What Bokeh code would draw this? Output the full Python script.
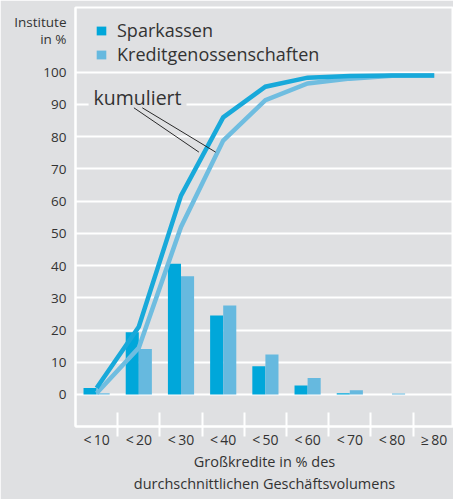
from bokeh.plotting import figure
from bokeh.models import (ColumnDataSource, FixedTicker, Label, Legend, LegendItem, Range1d)
from bokeh.transform import dodge
from bokeh.embed import file_html
from bokeh.resources import INLINE

# ---- data ----
categories = ["<\u200910", "<\u200920", "<\u200930", "<\u200940", "<\u200950",
              "<\u200960", "<\u200970", "<\u200980", "\u2265\u200980"]
sparkassen = [2.0, 19.3, 40.6, 24.5, 8.8, 2.8, 0.4, 0.0, 0.0]
kredit = [0.4, 14.1, 36.7, 27.6, 12.4, 5.1, 1.3, 0.3, 0.0]
sparkassen_cum = [2.0, 21.0, 61.7, 86.0, 95.5, 98.3, 98.8, 99.0, 99.0]
kredit_cum = [0.4, 14.5, 52.0, 78.8, 91.3, 96.5, 98.0, 98.9, 99.0]
y_ticks = [0, 10, 20, 30, 40, 50, 60, 70, 80, 90, 100]
series_names = ["Sparkassen", "Kreditgenossenschaften"]
x_title = "Großkredite in % des\ndurchschnittlichen Geschäftsvolumens"
y_title_lines = {115.7: "Institute", 110.3: "in %"}   # stacked unit label
callout_text = "kumuliert"
# callout leader lines (data coordinates: category index, percent)
callout_x0 = [0.884, 1.083]
callout_y0 = [88.95, 88.95]
callout_x1 = [2.424, 2.82]
callout_y1 = [75.2, 75.2]

# ---- style ----
BG = "#dfe0e2"
PAGE_BG = "#e9eaeb"
C_SPK = "#00a7da"
C_KRE = "#66b9df"
C_SPK_LINE = "#18a9da"
C_KRE_LINE = "#6fbde0"
TXT = "#333333"
FONT = "Open Sans"

idx = list(range(len(categories)))
src = ColumnDataSource(dict(x=idx, spk=sparkassen, kre=kredit,
                            spk_cum=sparkassen_cum, kre_cum=kredit_cum))

p = figure(width=453, height=499,
           x_range=Range1d(-0.5, 8.457), y_range=Range1d(-9.93, 120.07),
           output_backend="svg", toolbar_location=None,
           min_border_left=75, min_border_right=0, min_border_top=7,
           min_border_bottom=73)
p.background_fill_color = BG
p.border_fill_color = BG
p.outline_line_color = "white"
p.outline_line_width = 2

# bars
bw = 0.31
r_spk = p.vbar(x=dodge("x", -bw / 2, range=p.x_range), top="spk", width=bw,
               source=src, fill_color=C_SPK, line_color=None)
r_kre = p.vbar(x=dodge("x", bw / 2, range=p.x_range), top="kre", width=bw,
               source=src, fill_color=C_KRE, line_color=None)

# cumulative lines
p.line("x", "kre_cum", source=src, line_color=C_KRE_LINE, line_width=4.5,
       line_join="miter")
p.line("x", "spk_cum", source=src, line_color=C_SPK_LINE, line_width=4.5,
       line_join="miter")

# callout
seg = p.segment(x0=callout_x0, y0=callout_y0, x1=callout_x1, y1=callout_y1,
                line_color="#2a2a2a", line_width=1)
seg.level = "overlay"
p.add_layout(Label(x=-0.19, y=92.2, text=callout_text, text_baseline="middle",
                   text_font=FONT, text_font_size="19.5px", text_color=TXT,
                   background_fill_color=BG, padding=5))

# x axis
xa = p.xaxis[0]
xa.ticker = FixedTicker(ticks=idx, minor_ticks=[i + 0.5 for i in idx])
xa.major_label_overrides = {i: c for i, c in zip(idx, categories)}
xa.major_tick_line_color = None
xa.major_tick_in = 0
xa.major_tick_out = 0
xa.minor_tick_line_color = "white"
xa.minor_tick_line_width = 2
xa.minor_tick_in = 14
xa.minor_tick_out = 10
xa.axis_line_color = "white"
xa.axis_line_width = 2
xa.major_label_standoff = -7
xa.major_label_text_font = FONT
xa.major_label_text_font_size = "14px"
xa.major_label_text_color = TXT
xa.axis_label = x_title
xa.axis_label_text_font = FONT
xa.axis_label_text_font_size = "14.5px"
xa.axis_label_text_font_style = "normal"
xa.axis_label_text_color = TXT
xa.axis_label_standoff = 0

# y axis (unit label placed as two extra tick labels above 100)
ya = p.yaxis[0]
ya.ticker = FixedTicker(ticks=y_ticks + list(y_title_lines.keys()))
ya.major_label_overrides = dict(y_title_lines)
ya.major_tick_line_color = None
ya.minor_tick_line_color = None
ya.major_tick_in = 0
ya.major_tick_out = 0
ya.axis_line_color = "white"
ya.axis_line_width = 2
ya.major_label_standoff = 9
ya.major_label_text_font = FONT
ya.major_label_text_font_size = "13.5px"
ya.major_label_text_color = TXT

p.xgrid.grid_line_color = None
p.ygrid.ticker = FixedTicker(ticks=y_ticks)
p.ygrid.grid_line_color = "white"
p.ygrid.grid_line_width = 2

legend = Legend(items=[LegendItem(label=series_names[0], renderers=[r_spk]),
                       LegendItem(label=series_names[1], renderers=[r_kre])],
                location=(20, 360), glyph_width=12, glyph_height=11,
                label_standoff=10, spacing=-8, padding=0, margin=0,
                border_line_color=None, background_fill_alpha=0,
                label_text_font=FONT, label_text_font_size="18px",
                label_text_color=TXT)
p.add_layout(legend)

html = file_html(p, INLINE)
html = html.replace("<body>", '<body style="background-color:%s;">' % PAGE_BG, 1)
open("out.html", "w").write(html)
